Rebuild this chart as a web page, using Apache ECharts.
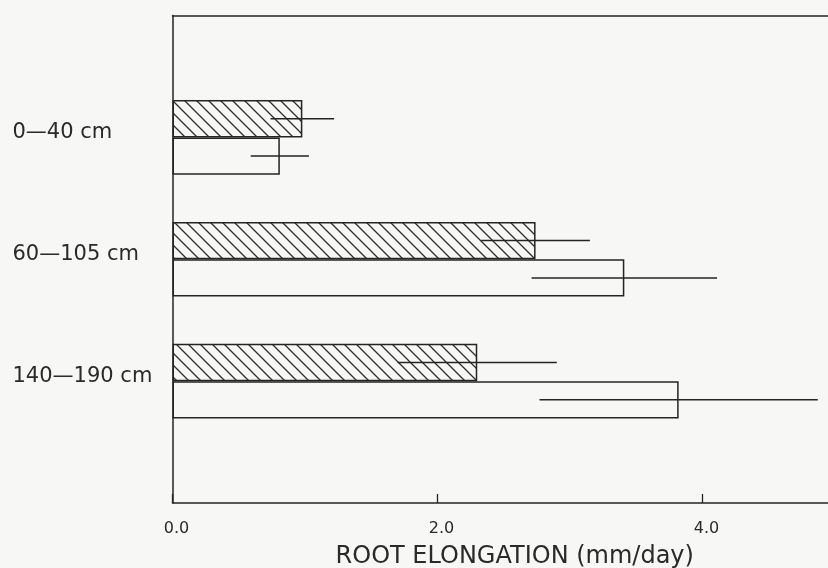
<!DOCTYPE html>
<html>
<head>
<meta charset="utf-8">
<script src="https://cdn.jsdelivr.net/npm/echarts@6/dist/echarts.min.js"></script>
<style>
  html, body { margin: 0; padding: 0; background: #f7f7f5; }
  #chart { width: 828px; height: 568px; }
</style>
</head>
<body>
<div id="chart"></div>
<script>
// Soil depth classes (top to bottom)
const depths = ['0—40 cm', '60—105 cm', '140—190 cm'];

// Hatched bars: mean root elongation and its error (mm/day)
const hatchedMean = [0.98, 2.74, 2.30];
const hatchedErr  = [0.24, 0.41, 0.60];

// Open bars: mean root elongation and its error (mm/day)
const openMean = [0.81, 3.41, 3.82];
const openErr  = [0.22, 0.70, 1.05];

// X axis tick values
const xTicks = [0, 2, 4];

const INK = '#242424';
const BAR = 37.3;

// Diagonal "\\\" hatch tile
function hatchTile() {
  const s = 12;
  const c = document.createElement('canvas');
  c.width = s; c.height = s;
  const g = c.getContext('2d');
  g.strokeStyle = '#2e2e2e';
  g.lineWidth = 1.3;
  g.beginPath();
  g.moveTo(-2, -2); g.lineTo(s + 2, s + 2);
  g.moveTo(s - 2, -2); g.lineTo(s + 2, 2);
  g.moveTo(-2, s - 2); g.lineTo(2, s + 2);
  g.stroke();
  return c;
}

// Category axis with empty end slots so the groups sit on ticks
const yCats = [''].concat(depths, ['']);
const pad = arr => ['-'].concat(arr, ['-']);

function errorBars(means, errs, shift) {
  return {
    type: 'custom',
    z: 5,
    clip: false,
    encode: { x: 0, y: 1 },
    data: means.map((m, i) => [m, i + 1, errs[i]]),
    renderItem: function (params, api) {
      const v = api.value(0), c = api.value(1), e = api.value(2);
      const a = api.coord([v - e, c]);
      const b = api.coord([v + e, c]);
      const y = a[1] + shift;
      return {
        type: 'line',
        shape: { x1: a[0], y1: y, x2: b[0], y2: y },
        style: { stroke: INK, lineWidth: 1.5 }
      };
    }
  };
}

const chart = echarts.init(document.getElementById('chart'), null, { renderer: 'canvas' });

chart.setOption({
  backgroundColor: '#f7f7f5',
  animation: false,
  grid: { left: 172.5, top: 15.5, right: -7, bottom: 65, outerBoundsMode: 'none', containLabel: false },
  xAxis: [
    {
      type: 'value',
      position: 'bottom',
      min: 0, max: 5, interval: 2,
      axisLine: { show: true, lineStyle: { color: INK, width: 1.5 } },
      axisTick: { show: true, inside: true, length: 9, lineStyle: { color: INK, width: 1.3 } },
      splitLine: { show: false },
      axisLabel: {
        showMaxLabel: false,
        margin: 18,
        fontFamily: 'DejaVu Sans',
        fontSize: 16,
        color: '#2a2a2a',
        padding: [0, 0, 0, 8],
        formatter: v => (xTicks.indexOf(v) >= 0 ? v.toFixed(1) : '')
      },
      name: 'ROOT ELONGATION (mm/day)',
      nameLocation: 'middle',
      nameGap: 42,
      nameTextStyle: {
        fontFamily: 'DejaVu Sans',
        fontSize: 24,
        color: '#2a2a2a',
        padding: [0, 0, 0, 22]
      }
    },
    {
      type: 'value',
      position: 'top',
      min: 0, max: 5,
      axisLine: { show: true, lineStyle: { color: INK, width: 1.5 } },
      axisTick: { show: false },
      axisLabel: { show: false },
      splitLine: { show: false }
    }
  ],
  yAxis: {
    type: 'category',
    data: yCats,
    inverse: true,
    boundaryGap: false,
    axisLine: { show: true, lineStyle: { color: INK, width: 1.5 } },
    axisTick: { show: false },
    splitLine: { show: false },
    axisLabel: {
      align: 'left',
      verticalAlign: 'bottom',
      lineHeight: 9,
      margin: 160,
      fontFamily: 'DejaVu Sans',
      fontSize: 21,
      color: '#2a2a2a',
      interval: 0
    }
  },
  series: [
    {
      type: 'bar',
      data: pad(hatchedMean),
      barWidth: BAR,
      barGap: '0%',
      itemStyle: {
        color: { image: hatchTile(), repeat: 'repeat' },
        borderColor: INK,
        borderWidth: 1.5
      }
    },
    {
      type: 'bar',
      data: pad(openMean),
      barWidth: BAR,
      barGap: '0%',
      itemStyle: {
        color: 'rgba(0,0,0,0)',
        borderColor: INK,
        borderWidth: 1.5
      }
    },
    errorBars(hatchedMean, hatchedErr, -BAR / 2),
    errorBars(openMean, openErr, BAR / 2)
  ]
});
</script>
</body>
</html>
